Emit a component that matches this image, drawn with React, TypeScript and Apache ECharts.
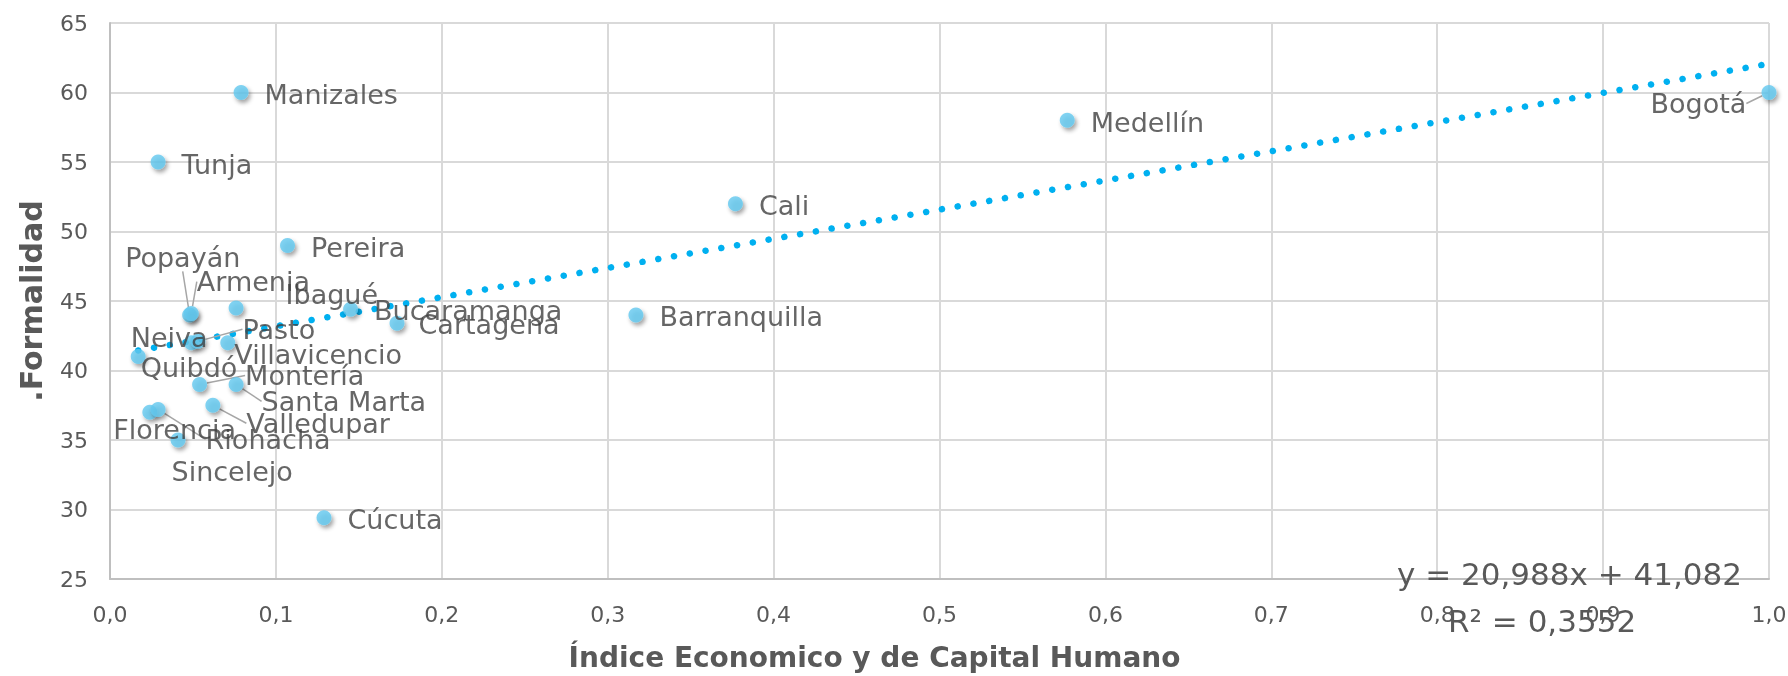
import React, { useEffect, useRef } from "react";
import * as echarts from "echarts";

const cities = ["Bogotá","Medellín","Cali","Barranquilla","Manizales","Tunja","Pereira","Popayán","Armenia","Ibagué","Bucaramanga","Cartagena","Neiva","Pasto","Villavicencio","Quibdó","Montería","Santa Marta","Valledupar","Florencia","Riohacha","Sincelejo","Cúcuta"];
const indice = [1.0, 0.577, 0.377, 0.317, 0.079, 0.029, 0.107, 0.048, 0.049, 0.076, 0.145, 0.173, 0.049, 0.053, 0.071, 0.017, 0.054, 0.076, 0.062, 0.024, 0.029, 0.041, 0.129];
const formalidad = [60, 58, 52, 44, 60, 55, 49, 44, 44.1, 44.5, 44.4, 43.4, 42, 42.1, 42, 41, 39, 39, 37.5, 37, 37.2, 35, 29.4];

// trendline coefficients as printed on the chart
const slope = 20.988;
const intercept = 41.082;
const equationText = "y = 20,988x + 41,082";
const r2Text = "R² = 0,3552";

// label displacements (px) relative to default right-side placement
const labelShift: Record<string, [number, number, boolean]> = {
  "Bogotá": [-142, 11, true],
  "Popayán": [-88, -57, true],
  "Armenia": [-18, -32, true],
  "Ibagué": [26, -13, false],
  "Bucaramanga": [0, 1, false],
  "Cartagena": [-2, 1, false],
  "Neiva": [-84, -5, false],
  "Pasto": [21, -12, true],
  "Villavicencio": [-17, 12, false],
  "Quibdó": [-21, 11, false],
  "Montería": [22, -9, true],
  "Santa Marta": [2, 17, true],
  "Valledupar": [10, 18, true],
  "Florencia": [-60, 17, false],
  "Riohacha": [24, 30, true],
  "Sincelejo": [-30, 31, false],
};

const FONT = "'DejaVu Sans', sans-serif";

export default function App() {
  const ref = useRef<HTMLDivElement>(null);
  useEffect(() => {
    if (!ref.current) return;
    const chart = echarts.init(ref.current, null, { renderer: "svg" });
    const xmin = Math.min(...indice);
    const xmax = 1.0;
    const points = cities.map((c, i) => {
      const s = labelShift[c];
      return {
        name: c,
        value: [indice[i], formalidad[i]],
        labelLine: { show: !!(s && s[2]) },
      };
    });
    chart.setOption({
      animation: false,
      grid: { left: 110, right: 19, top: 23, bottom: 97, containLabel: false, outerBoundsMode: "none" },
      xAxis: {
        type: "value",
        min: 0,
        max: 1,
        interval: 0.1,
        name: "Índice Economico y de Capital Humano",
        nameLocation: "middle",
        nameGap: 64,
        nameTextStyle: { fontFamily: FONT, fontSize: 28, fontWeight: "bold", color: "#595959", padding: [0, 130, 0, 0] },
        axisLine: { lineStyle: { color: "#bfbfbf", width: 2 } },
        axisTick: { show: false },
        splitLine: { lineStyle: { color: "#d9d9d9", width: 2 } },
        axisLabel: {
          fontFamily: FONT,
          fontSize: 22,
          color: "#595959",
          margin: 24,
          formatter: (v: number) => v.toFixed(1).replace(".", ","),
        },
      },
      yAxis: {
        type: "value",
        min: 25,
        max: 65,
        interval: 5,
        name: ".Formalidad",
        nameLocation: "middle",
        nameGap: 64,
        nameTextStyle: { fontFamily: FONT, fontSize: 30, fontWeight: "bold", color: "#595959" },
        axisLine: { show: true, lineStyle: { color: "#bfbfbf", width: 2 } },
        axisTick: { show: false },
        splitLine: { lineStyle: { color: "#d9d9d9", width: 2 } },
        axisLabel: { fontFamily: FONT, fontSize: 22, color: "#595959", margin: 22 },
      },
      series: [
        {
          type: "line",
          data: [
            [xmin, intercept + slope * xmin],
            [xmax, intercept + slope * xmax],
          ],
          symbol: "none",
          silent: true,
          lineStyle: { color: "#00b0f0", width: 6.5, type: [0.1, 15.9], cap: "round" },
          z: 3,
        },
        {
          type: "scatter",
          data: points,
          symbolSize: 15,
          itemStyle: {
            color: "#63c8ef",
            shadowBlur: 4,
            shadowColor: "rgba(0,0,0,0.45)",
            shadowOffsetX: 2,
            shadowOffsetY: 3,
          },
          label: {
            show: true,
            position: "right",
            distance: 16,
            formatter: "{b}",
            fontFamily: FONT,
            fontSize: 27,
            color: "#404040",
          },
          labelLine: { lineStyle: { color: "#a6a6a6", width: 1.5 } },
          labelLayout: (p: any) => {
            const s = labelShift[cities[p.dataIndex]];
            return s ? { dx: s[0], dy: s[1] } : { dx: 0, dy: 2 };
          },
          z: 4,
        },
      ],
      graphic: [
        {
          type: "text",
          x: 1397,
          y: 574,
          style: { text: equationText, font: `31px ${FONT}`, fill: "#595959", verticalAlign: "middle" },
          z: 10,
        },
        {
          type: "text",
          x: 1448,
          y: 621,
          style: { text: r2Text, font: `31px ${FONT}`, fill: "#595959", verticalAlign: "middle" },
          z: 10,
        },
      ],
    });
    return () => chart.dispose();
  }, []);
  return (
    <div
      ref={ref}
      style={{ position: "fixed", left: 0, top: 0, width: 1788, height: 676 }}
    />
  );
}
